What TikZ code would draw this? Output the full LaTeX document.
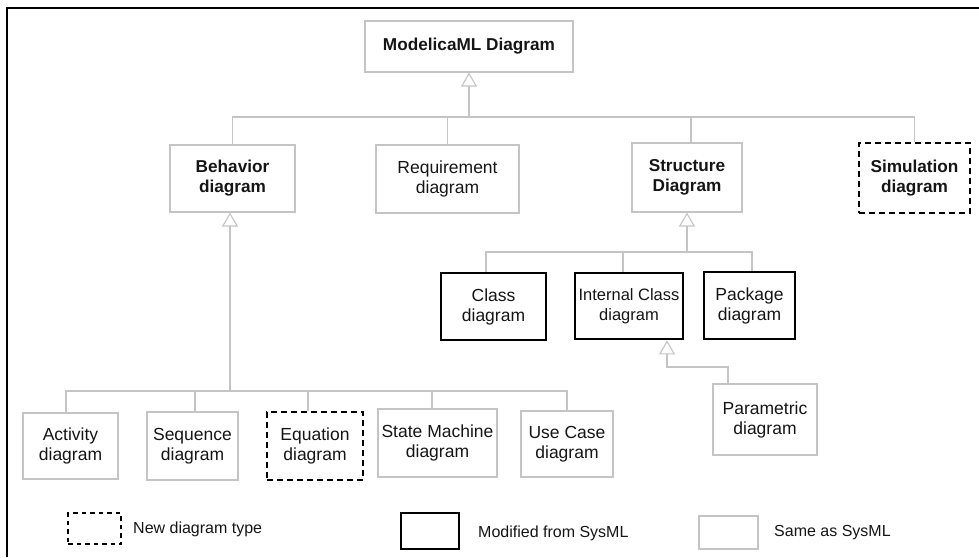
\documentclass[tikz,border=0pt]{standalone}
\usepackage{fontspec}
\setmainfont{Liberation Sans}
\usetikzlibrary{arrows.meta}
\definecolor{linegray}{HTML}{C4C4C4}
\definecolor{ink}{HTML}{151515}
\begin{document}
\begin{tikzpicture}[x=1pt,y=-1pt,
  box/.style={draw=linegray, line width=1.1pt, inner sep=0pt, align=center,
    text=ink, font=\fontsize{17.5}{20}\selectfont},
  samebox/.style={box},
  modbox/.style={box, draw=black, line width=2.8pt},
  newbox/.style={box, draw=black, line width=2.8pt, dash pattern=on 6pt off 4pt},
  boldtxt/.style={font=\bfseries\fontsize{17.2}{20}\selectfont},
  conn/.style={draw=linegray, line width=1.1pt},
  gen/.style={conn, -{Triangle[open, length=14pt, width=16pt, line width=1.1pt]}},
  legtxt/.style={anchor=west, inner sep=0pt, text=ink, font=\fontsize{16}{18}\selectfont},
]
\useasboundingbox (0,0) rectangle (979,557);

% outer frame (top and left edges)
\draw[black, line width=2.4pt] (7,557) -- (7,8) -- (979,8);

% root
\node[samebox, boldtxt, minimum width=208pt, minimum height=51pt] (top) at (469,46.5) {ModelicaML Diagram};

% second level
\node[samebox, boldtxt, minimum width=125pt, minimum height=67pt] (beh) at (232.5,178.5) {Behavior\\diagram};
\node[samebox, minimum width=143pt, minimum height=68pt] (req) at (447.5,179) {Requirement\\diagram};
\node[samebox, boldtxt, minimum width=110pt, minimum height=69pt] (str) at (687,177.5) {Structure\\Diagram};
\node[newbox, boldtxt, minimum width=111pt, minimum height=70pt] (sim) at (914.5,178) {Simulation\\diagram};

% structure children
\node[modbox, minimum width=105pt, minimum height=67pt] (cls) at (493.5,306.5) {Class\\diagram};
\node[modbox, minimum width=108pt, minimum height=66pt, font=\fontsize{16.5}{20}\selectfont] (icd) at (629,306) {Internal Class\\diagram};
\node[modbox, minimum width=91pt, minimum height=67pt] (pkg) at (749.5,305.5) {Package\\diagram};
\node[samebox, minimum width=104pt, minimum height=71pt] (par) at (765,419.5) {Parametric\\diagram};

% behavior children
\node[samebox, minimum width=95pt, minimum height=66pt] (act) at (70.5,446) {Activity\\diagram};
\node[samebox, minimum width=91pt, minimum height=68pt] (seq) at (192.5,446) {Sequence\\diagram};
\node[newbox, minimum width=96pt, minimum height=68pt] (equ) at (315,446) {Equation\\diagram};
\node[samebox, minimum width=119pt, minimum height=68pt] (stm) at (437.5,443) {State Machine\\diagram};
\node[samebox, minimum width=92pt, minimum height=66pt] (usc) at (567,444) {Use Case\\diagram};

% generalization from second level to root
\coordinate (bus1) at (469,117);
\draw[conn] (beh.north) |- (bus1);
\draw[conn] (req.north) |- (bus1);
\draw[conn] ([xshift=4pt]str.north) |- (bus1);
\draw[conn] (sim.north) |- (bus1);
\draw[gen] (bus1) -- (top.south);

% generalization to structure diagram
\coordinate (bus2) at (687,252);
\draw[conn] ([xshift=-7.5pt]cls.north) |- (bus2);
\draw[conn] ([xshift=-6pt]icd.north) |- (bus2);
\draw[conn] ([xshift=2.5pt]pkg.north) |- (bus2);
\draw[gen] (bus2) -- (str.south);

% parametric to internal class
\coordinate (bus4) at (667,367);
\draw[gen] ([xshift=-37pt]par.north) |- (bus4) -- (bus4 |- icd.south);

% generalization to behavior diagram
\coordinate (bus3) at (230,391);
\draw[conn] ([xshift=-4.5pt]act.north) |- (bus3);
\draw[conn] ([xshift=2.5pt]seq.north) |- (bus3);
\draw[conn] ([xshift=-7pt]equ.north) |- (bus3);
\draw[conn] ([xshift=-5.5pt]stm.north) |- (bus3);
\draw[conn] (usc.north) |- (bus3);
\draw[gen] (bus3) -- (bus3 |- beh.south);

% legend
\node[newbox, line width=2.2pt, dash pattern=on 4.5pt off 4pt, minimum width=53pt, minimum height=31pt] (lnew) at (94.5,528.5) {};
\node[legtxt] (lnewt) at (133,529) {New diagram type};
\node[modbox, line width=2.6pt, minimum width=58pt, minimum height=36pt] (lmod) at (430,531) {};
\node[legtxt] (lmodt) at (478,533) {Modified from SysML};
\node[samebox, minimum width=59pt, minimum height=33pt] (lsame) at (728.5,532.5) {};
\node[legtxt] (lsamet) at (774,533) {Same as SysML};
\end{tikzpicture}
\end{document}
